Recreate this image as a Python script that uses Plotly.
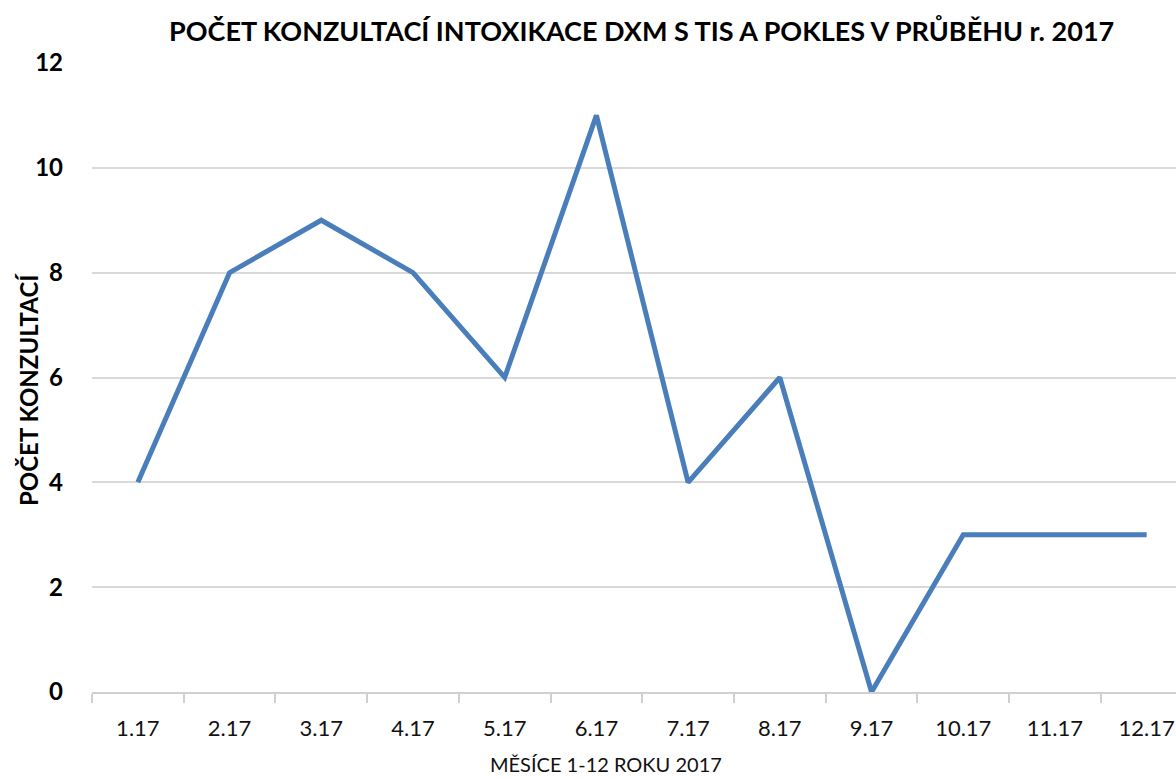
import plotly.graph_objects as go

months = ["1.17", "2.17", "3.17", "4.17", "5.17", "6.17", "7.17", "8.17", "9.17", "10.17", "11.17", "12.17"]
consultations = [4, 8, 9, 8, 6, 11, 4, 6, 0, 3, 3, 3]
y_ticks = [0, 2, 4, 6, 8, 10, 12]

title_text = "POČET KONZULTACÍ INTOXIKACE DXM S TIS A POKLES V PRŮBĚHU r. 2017"
x_title = "MĚSÍCE 1-12 ROKU 2017"
y_title = "POČET KONZULTACÍ"

FONT = "Lato"
W, H = 1176, 780
L, R, T, B = 92, 0, 63, 88
pw, ph = W - L - R, H - T - B


def px(x):
    return (x - L) / pw


def py(y):
    return (H - B - y) / ph


fig = go.Figure()
fig.add_trace(go.Scatter(
    x=list(range(len(months))), y=consultations, mode="lines",
    line=dict(color="#4a7ebb", width=5), showlegend=False, hoverinfo="skip",
))

fig.update_layout(
    width=W, height=H,
    margin=dict(l=L, r=R, t=T, b=B),
    paper_bgcolor="white", plot_bgcolor="white",
    font=dict(family=FONT, color="black"),
    xaxis=dict(
        range=[-0.5, 11.32],
        tickmode="array", tickvals=list(range(len(months))), ticktext=months,
        showgrid=False, zeroline=False,
        showline=True, linecolor="#d0d0d0", linewidth=2,
        ticks="", tickfont=dict(family=FONT, size=22, color="#111"),
        ticklabelstandoff=16,
        minor=dict(tickmode="array", tickvals=[i - 0.5 for i in range(len(months) + 1)],
                   ticks="outside", ticklen=9, tickcolor="#d0d0d0", tickwidth=2),
    ),
    yaxis=dict(
        range=[0, 12], tickmode="array", tickvals=y_ticks,
        showgrid=True, gridcolor="#d9d9d9", gridwidth=1.5,
        zeroline=False, showline=False,
        tickfont=dict(family=FONT, size=24, color="black", weight="bold"),
        ticklabelstandoff=28,
    ),
    annotations=[
        dict(text=title_text, x=px(641), y=py(31), xref="paper", yref="paper",
             xanchor="center", yanchor="middle", showarrow=False,
             font=dict(family=FONT, size=27, weight="bold", color="black")),
        dict(text=x_title, x=px(606), y=py(764), xref="paper", yref="paper",
             xanchor="center", yanchor="middle", showarrow=False,
             font=dict(family=FONT, size=20, color="#111")),
        dict(text=y_title, x=px(28), y=py(390), xref="paper", yref="paper",
             xanchor="center", yanchor="middle", showarrow=False, textangle=-90,
             font=dict(family=FONT, size=24, weight="bold", color="black")),
    ],
)

fig.write_html("out.html", config={"displayModeBar": False},
               post_script="document.body.style.margin='0';document.body.style.overflow='hidden';")
